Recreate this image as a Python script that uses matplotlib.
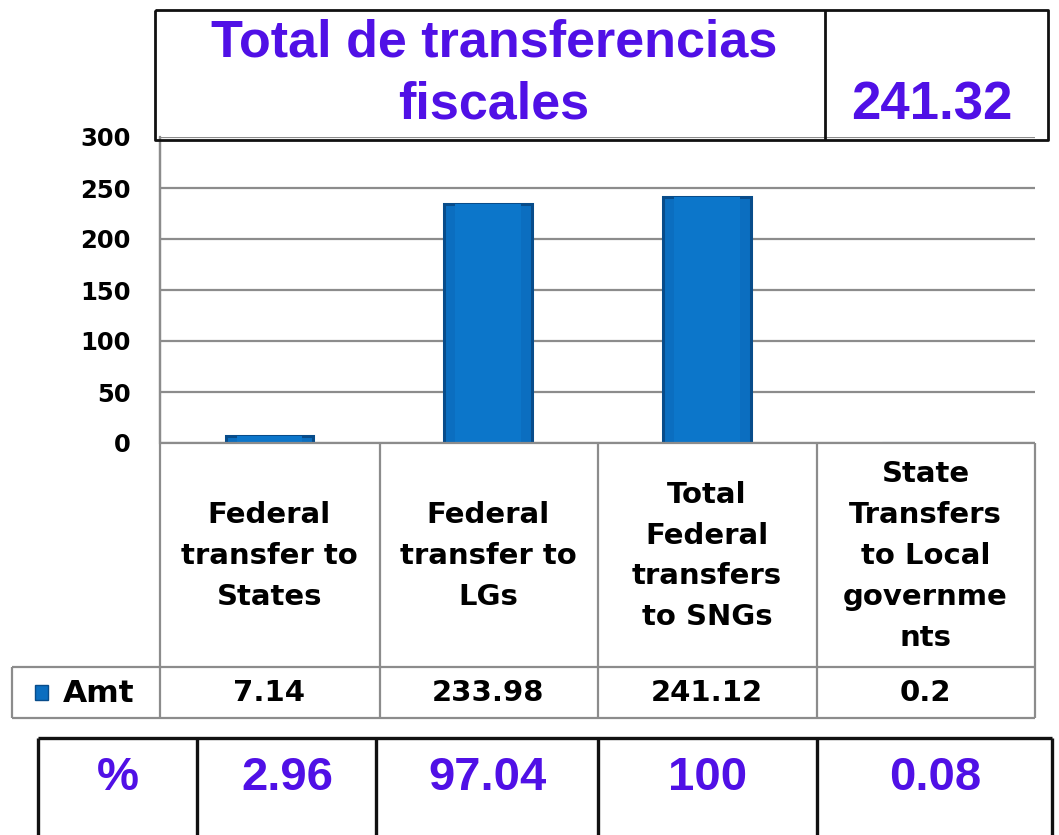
import matplotlib
matplotlib.use("Agg")
import matplotlib.pyplot as plt
from matplotlib.patches import Rectangle
from matplotlib.transforms import blended_transform_factory

# ---- data ----
categories = ["Federal\ntransfer to\nStates",
              "Federal\ntransfer to\nLGs",
              "Total\nFederal\ntransfers\nto SNGs",
              "State\nTransfers\nto Local\ngovernme\nnts"]
amt_values = [7.14, 233.98, 241.12, 0.2]
amt_labels = ["7.14", "233.98", "241.12", "0.2"]
pct_labels = ["2.96", "97.04", "100", "0.08"]
series_name = "Amt"
title_text = "Total de transferencias\nfiscales"
total_text = "241.32"
yticks = [0, 50, 100, 150, 200, 250, 300]

W, H = 1059, 835
BLUE_TXT = "#5010E6"
BAR = "#0B6EC0"
GRID = "#8C8C8C"
BLACK_FONT = ["DejaVu Sans"]
BLUE_FONT = ["Liberation Sans", "DejaVu Sans"]

fig = plt.figure(figsize=(W / 100, H / 100), dpi=100)
fig.patch.set_facecolor("white")

def fx(px):
    return px / W

def fy(py):
    return 1 - py / H

# chart axes (plot area)
L, R, T, B = 160, 1035, 137, 443
ax = fig.add_axes([fx(L), fy(B), fx(R) - fx(L), fy(T) - fy(B)])
x = list(range(len(categories)))
ax.bar(x, amt_values, width=0.4, color=BAR, edgecolor="#084C8A", linewidth=2.2, zorder=3)
ax.bar(x, amt_values, width=0.3, color="#0C76CA", linewidth=0, zorder=4)
ax.set_xlim(-0.5, len(categories) - 0.5)
ax.set_ylim(0, 300)
ax.set_yticks(yticks)
ax.set_yticklabels([str(v) for v in yticks], fontfamily=BLACK_FONT, fontweight="bold", fontsize=17.5)
ax.tick_params(axis="y", length=0, pad=21)
ax.set_xticks([])
ax.yaxis.grid(True, color=GRID, linewidth=1.6, zorder=0)
for s in ["top", "right", "bottom"]:
    ax.spines[s].set_visible(False)
ax.spines["left"].set_color(GRID)
ax.spines["left"].set_linewidth(1.6)
ax.set_facecolor("none")

# overlay axes in pixel coordinates for tables and boxes
ov = fig.add_axes([0, 0, 1, 1], zorder=5)
ov.set_xlim(0, W)
ov.set_ylim(H, 0)
ov.axis("off")
ov.patch.set_alpha(0)

tcol = blended_transform_factory(ax.transData, ov.transData)

# ---- data table under chart ----
gl = dict(color=GRID, linewidth=1.6, solid_capstyle="butt")
ov.plot([L, R], [B, B], **gl)
ov.plot([12, R], [667, 667], **gl)
ov.plot([12, R], [718, 718], **gl)
ov.plot([L, L], [T, 718], **gl)
for xb in [380, 598, 817, R]:
    ov.plot([xb, xb], [B, 718], **gl)
ov.plot([12, 12], [667, 718], **gl)

for i, (c, a) in enumerate(zip(categories, amt_labels)):
    ov.text(i, 556, c, transform=tcol, ha="center", va="center",
            fontfamily=BLACK_FONT, fontweight="bold", fontsize=21, linespacing=1.58)
    ov.text(i, 693, a, transform=tcol, ha="center", va="center",
            fontfamily=BLACK_FONT, fontweight="bold", fontsize=21)

ov.add_patch(Rectangle((35, 685), 13, 15, facecolor=BAR, edgecolor="#084C8A", linewidth=1))
ov.text(63, 693, series_name, ha="left", va="center",
        fontfamily=BLACK_FONT, fontweight="bold", fontsize=22.5)

# ---- top title box ----
bl = dict(color="#111111", linewidth=2.0, solid_capstyle="butt")
ov.plot([155, 1048, 1048, 155, 155], [10, 10, 140, 140, 10], **bl)
ov.plot([825, 825], [10, 140], **bl)
ov.text(494, 74, title_text, ha="center", va="center", color=BLUE_TXT,
        fontfamily=BLUE_FONT, fontweight="bold", fontsize=37.5, linespacing=1.32)
ov.text(932, 106, total_text, ha="center", va="center", color=BLUE_TXT,
        fontfamily=BLUE_FONT, fontweight="bold", fontsize=38)

# ---- bottom percent box ----
bb = dict(color="#111111", linewidth=2.4, solid_capstyle="butt")
ov.plot([38, 1052], [738, 738], **bb)
for xb in [38, 197, 376, 598, 817, 1052]:
    ov.plot([xb, xb], [738, H + 5], **bb)
ov.text(118, 778, "%", ha="center", va="center", color=BLUE_TXT,
        fontfamily=BLUE_FONT, fontweight="bold", fontsize=34)
pct_centers = [287, 488, 708, 935]
for xc, p in zip(pct_centers, pct_labels):
    ov.text(xc, 778, p, ha="center", va="center", color=BLUE_TXT,
            fontfamily=BLUE_FONT, fontweight="bold", fontsize=34)

fig.savefig("out.png", dpi=100, facecolor="white")
